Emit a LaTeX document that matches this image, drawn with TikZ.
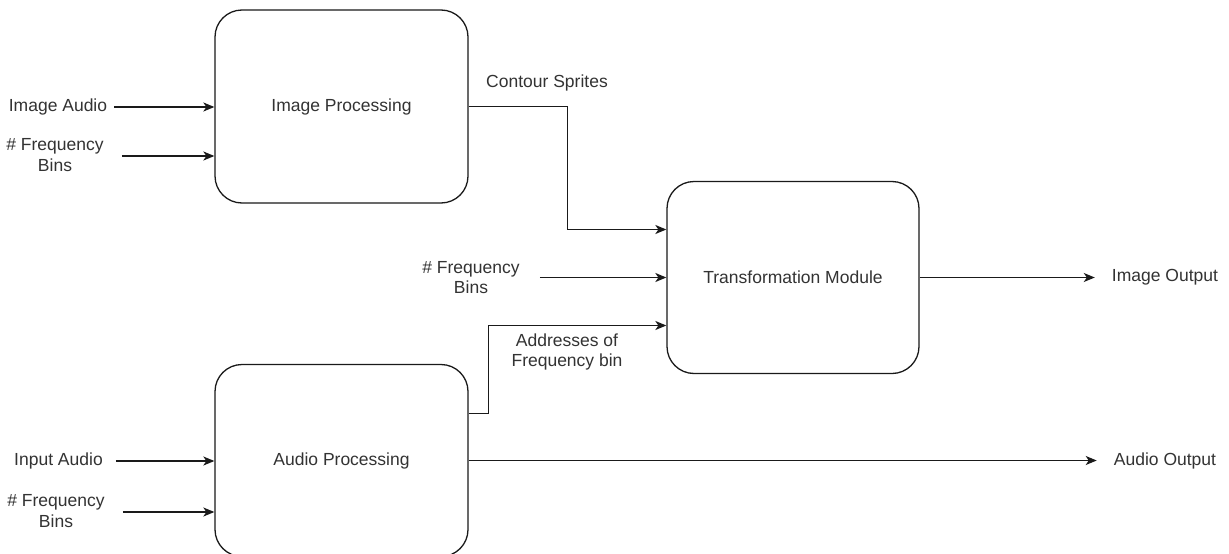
\documentclass[tikz,border=0pt]{standalone}
\usepackage{fontspec}
\setmainfont{Liberation Sans}
\usetikzlibrary{arrows.meta}
\definecolor{txt}{HTML}{333333}
\definecolor{ln}{HTML}{1A1A1A}
\begin{document}
\begin{tikzpicture}[x=1pt,y=-1pt,
  every node/.style={font=\fontsize{17.5}{20.5}\selectfont, text=txt, inner sep=3pt},
  box/.style={draw=ln, line width=1.3pt, rounded corners=27pt, minimum width=253pt, minimum height=193pt, inner sep=0pt},
  lbl/.style={align=center},
  arr/.style={draw=ln, line width=1.3pt, -{Stealth[length=11pt,width=9pt,inset=3pt]}}]
\useasboundingbox (0,0) rectangle (1229,554);
\fill[white] (0,0) rectangle (1229,554);

\node[box] (ip) at (341.5,106.5) {Image Processing};
\node[box, minimum height=192pt] (ap) at (341.5,460.5) {Audio Processing};
\node[box, minimum width=252pt, minimum height=192pt] (tm) at (793,277.5) {Transformation Module};

\node[lbl] (l1) at (58,107) {Image Audio};
\node[lbl] (l2) at (55,155) {\# Frequency\\Bins};
\node[lbl] (l3) at (58.5,461) {Input Audio};
\node[lbl] (l4) at (56,511) {\# Frequency\\Bins};
\node[lbl] (l5) at (471,277.5) {\# Frequency\\Bins};
\node[lbl] (cs) at (547,83) {Contour Sprites};
\node[lbl] (ad) at (567,352) {Addresses of\\Frequency bin};
\node[lbl] (io) at (1165,277.5) {Image Output};
\node[lbl] (ao) at (1165,460.5) {Audio Output};

\draw[arr] ([xshift=4pt]l1.east) -- (l1.east -| ip.west);
\draw[arr] ([xshift=15pt,yshift=-1pt]l2.east) -- ([yshift=-1pt]l2.east -| ip.west);
\draw[arr] ([xshift=10pt]l3.east) -- (l3.east -| ap.west);
\draw[arr] ([xshift=15pt,yshift=-1pt]l4.east) -- ([yshift=-1pt]l4.east -| ap.west);

\draw[arr] (ip.east) -- ++(99,0) |- ([yshift=48pt]tm.west);
\draw[arr] ([xshift=17pt]l5.east) -- (l5.east -| tm.west);
\draw[arr] ([yshift=47pt]ap.east) -- ++(20,0) |- ([yshift=-48pt]tm.west);

\draw[arr] (tm.east) -- ([xshift=-14pt]tm.east -| io.west);
\draw[arr] (ap.east) -- ([xshift=-14pt]ap.east -| ao.west);
\end{tikzpicture}
\end{document}
